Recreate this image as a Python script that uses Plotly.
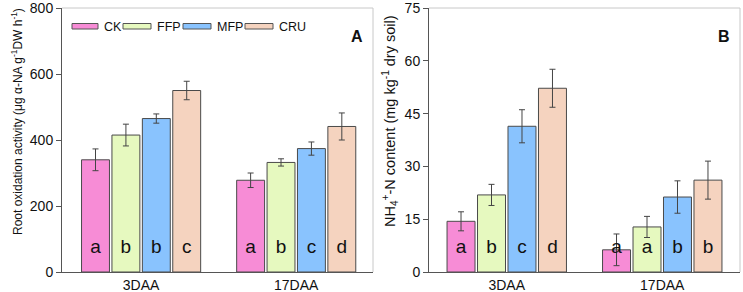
import plotly.graph_objects as go

days = ["3DAA", "17DAA"]
treatments = ["CK", "FFP", "MFP", "CRU"]
colors = ["#F78CD6", "#E6F9BF", "#89C3FE", "#F5D3BF"]

# Panel A: root oxidation activity
roa_mean = {"CK": [340, 278], "FFP": [415, 332], "MFP": [465, 374], "CRU": [550, 441]}
roa_err = {"CK": [33, 22], "FFP": [33, 11], "MFP": [14, 20], "CRU": [28, 41]}
roa_letters = {"CK": ["a", "a"], "FFP": ["b", "b"], "MFP": ["b", "c"], "CRU": ["c", "d"]}

# Panel B: NH4+-N content
nh4_mean = {"CK": [14.4, 6.3], "FFP": [21.9, 12.8], "MFP": [41.4, 21.3], "CRU": [52.2, 26.1]}
nh4_err = {"CK": [2.7, 4.5], "FFP": [3.0, 3.0], "MFP": [4.7, 4.6], "CRU": [5.4, 5.4]}
nh4_letters = {"CK": ["a", "a"], "FFP": ["b", "a"], "MFP": ["c", "b"], "CRU": ["d", "b"]}

yticks_a = [0, 200, 400, 600, 800]
yticks_b = [0, 15, 30, 45, 60, 75]

title_a = "Root oxidation activity (μg α-NA g<sup>-1</sup>DW h<sup>-1</sup>)"
title_b = "NH<sub>4</sub><sup>+</sup>-N content (mg kg<sup>-1</sup> dry soil)"

FONT = "Liberation Sans, Arial, sans-serif"
slot = 0.196
barw = 0.18
n = len(treatments)

fig = go.Figure()

panels = [
    ("x", "y", roa_mean, roa_err, roa_letters, 72),
    ("x2", "y2", nh4_mean, nh4_err, nh4_letters, 6.8),
]
for xa, ya, means, errs, letters, ytxt in panels:
    for k, (t, c) in enumerate(zip(treatments, colors)):
        xs = [i + (k - (n - 1) / 2) * slot for i in range(len(days))]
        fig.add_trace(go.Bar(
            x=xs, y=means[t], width=barw, name=t, xaxis=xa, yaxis=ya,
            marker=dict(color=c, line=dict(color="#4a4a4a", width=1)),
            error_y=dict(type="data", array=errs[t], color="#444444", thickness=1, width=3),
            showlegend=False,
        ))
        fig.add_trace(go.Scatter(
            x=xs, y=[ytxt] * len(xs), mode="text", text=letters[t], xaxis=xa, yaxis=ya,
            textfont=dict(family=FONT, size=19, color="#111111"), showlegend=False,
            hoverinfo="skip",
        ))

W, H = 743, 292
ML, MR, MT, MB = 62, 3, 8, 20

def fx(px):
    return (px - ML) / (W - ML - MR)

dom_a = [fx(62), fx(373)]
dom_b = [fx(429), fx(740)]

axis_common = dict(showgrid=False, zeroline=False, showline=True, linecolor="#555555", linewidth=1,
                   ticklabeloverflow="allow",
                   tickfont=dict(family=FONT, size=14, color="#111111"))

fig.update_layout(
    width=W, height=H, margin=dict(l=ML, r=MR, t=MT, b=MB, autoexpand=False),
    paper_bgcolor="white", plot_bgcolor="white", barmode="overlay",
    font=dict(family=FONT, color="#111111"),
    xaxis=dict(domain=dom_a, range=[-0.51, 1.495], tickvals=list(range(len(days))), ticktext=days,
               ticks="", anchor="y", **axis_common),
    yaxis=dict(domain=[0, 1], range=[0, 800], tickvals=yticks_a, ticks="outside", ticklen=5,
               tickcolor="#555555", anchor="x", **axis_common),
    xaxis2=dict(domain=dom_b, range=[-0.5, 1.5], tickvals=list(range(len(days))), ticktext=days,
                ticks="", anchor="y2", **axis_common),
    yaxis2=dict(domain=[0, 1], range=[0, 75], tickvals=yticks_b, ticks="outside", ticklen=5,
                tickcolor="#555555", anchor="x2", **axis_common),
)

# axis titles (rotated), placed in pixel terms of the figure
ph_total = H - MT - MB
for txt, xpx, ycen, fs in [(title_a, 17, 122, 12), (title_b, 390, 121, 14.5)]:
    fig.add_annotation(x=(xpx - ML) / (W - ML - MR), y=(H - MB - ycen) / ph_total,
                       xref="paper", yref="paper", text=txt, textangle=-90, showarrow=False,
                       xanchor="center", yanchor="middle",
                       font=dict(family=FONT, size=fs, color="#111111"))

# light grey top/right frame lines
for xr, yr in [("x domain", "y domain"), ("x2 domain", "y2 domain")]:
    fig.add_shape(type="line", xref=xr, yref=yr, x0=0, x1=1, y0=1, y1=1,
                  line=dict(color="#c8c8c8", width=1))
    fig.add_shape(type="line", xref=xr, yref=yr, x0=1, x1=1, y0=0, y1=1,
                  line=dict(color="#c8c8c8", width=1))

# panel letters
fig.add_annotation(x=0.975, y=0.93, xref="x domain", yref="y domain", text="<b>A</b>",
                   showarrow=False, xanchor="right", font=dict(family=FONT, size=16))
fig.add_annotation(x=0.975, y=0.93, xref="x2 domain", yref="y2 domain", text="<b>B</b>",
                   showarrow=False, xanchor="right", font=dict(family=FONT, size=16))

# legend in panel A (flat swatches)
pw, ph = 311.0, 264.0
sw_left = [10, 61, 121, 183]
sw_w = [26, 28, 28, 28]
for k, (t, c) in enumerate(zip(treatments, colors)):
    x0 = sw_left[k] / pw
    x1 = (sw_left[k] + sw_w[k]) / pw
    fig.add_shape(type="rect", xref="x domain", yref="y domain", x0=x0, x1=x1,
                  y0=(264 - 21) / ph, y1=(264 - 15.5) / ph,
                  fillcolor=c, line=dict(color="#555555", width=1))
    fig.add_annotation(x=x1 + 4 / pw, y=(264 - 18.5) / ph, xref="x domain", yref="y domain",
                       text=t, showarrow=False, xanchor="left", yanchor="middle",
                       font=dict(family=FONT, size=12.5, color="#111111"))

fig.write_html("out.html", config={"displayModeBar": False},
               post_script="document.body.style.margin='0';")
